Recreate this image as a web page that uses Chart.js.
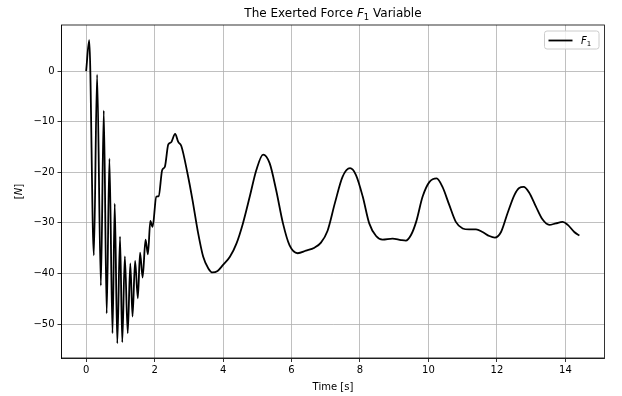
<!DOCTYPE html>
<html>
<head>
<meta charset="utf-8">
<title>The Exerted Force F1 Variable</title>
<script src="https://cdn.jsdelivr.net/npm/chart.js@4.4.1/dist/chart.umd.min.js"></script>
<style>
    html, body { margin: 0; padding: 0; background: #fff; }
    #wrap { position: relative; width: 622px; height: 396px; }
</style>
</head>
<body>
<div id="wrap"><canvas id="forceChart" width="622" height="396"></canvas></div>
<script>
// values
const timeValues = [
    0, 0.09, 0.225, 0.32, 0.43, 0.515, 0.60, 0.68, 0.77, 0.835,
    0.91, 0.99, 1.055, 1.13, 1.215, 1.29, 1.355, 1.43, 1.51, 1.575,
    1.65, 1.735, 1.805, 1.875, 1.94, 2.05, 2.12, 2.22, 2.30, 2.40,
    2.48, 2.60, 2.69, 2.78, 2.96, 3.11, 3.26, 3.42, 3.57, 3.69,
    3.84, 4.00, 4.20, 4.39, 4.58, 4.78, 4.97, 5.17, 5.36, 5.55,
    5.75, 5.94, 6.18, 6.42, 6.67, 6.86, 7.05, 7.27, 7.49, 7.71,
    7.88, 8.08, 8.27, 8.47, 8.66, 8.95, 9.20, 9.34, 9.49, 9.64,
    9.83, 10.03, 10.24, 10.41, 10.61, 10.80, 11.00, 11.19, 11.39, 11.58,
    11.78, 11.94, 12.12, 12.31, 12.51, 12.65, 12.78, 12.94, 13.14, 13.33,
    13.53, 13.72, 13.92, 14.07, 14.26, 14.41
];
const forceValues = [
    0, 6.1, -36.4, -0.7, -42.4, -7.8, -47.9, -17.3, -51.8, -26.2,
    -53.8, -32.7, -53.6, -36.6, -51.8, -38.0, -48.5, -37.5, -44.9, -35.9,
    -40.8, -33.3, -36.2, -29.6, -30.8, -24.8, -24.7, -19.6, -18.9, -14.5,
    -14.1, -12.4, -14.0, -14.8, -20.2, -25.6, -31.6, -36.7, -39.0, -39.8,
    -39.5, -38.3, -36.7, -34.1, -30.1, -24.8, -19.6, -16.5, -18.2, -23.5,
    -30.1, -34.4, -36.0, -35.5, -34.9, -33.9, -31.6, -26.0, -20.9, -19.2,
    -20.5, -24.8, -30.1, -32.6, -33.3, -33.1, -33.4, -33.5, -32.4, -29.8,
    -24.8, -21.9, -21.2, -22.9, -26.5, -29.8, -31.1, -31.3, -31.3, -31.8,
    -32.6, -32.9, -31.8, -28.1, -24.5, -23.1, -22.9, -24.0, -26.8, -29.3,
    -30.4, -30.1, -29.8, -30.4, -31.8, -32.5
];
const xTicks = [0, 2, 4, 6, 8, 10, 12, 14];
const yTicks = [-50, -40, -30, -20, -10, 0];

const FONT = "'DejaVu Sans', sans-serif";

// draw a run of text pieces (normal / italic / subscript) centred on cx
function drawParts(ctx, parts, cx, y) {
    let total = 0;
    parts.forEach(p => {
        ctx.font = p.font;
        p.w = ctx.measureText(p.text).width;
        total += p.w;
    });
    let x = cx - total / 2;
    parts.forEach(p => {
        ctx.font = p.font;
        ctx.fillText(p.text, x, y + (p.dy || 0));
        x += p.w;
    });
}

const textPlugin = {
    id: 'textPlugin',
    afterDraw(chart) {
        const ctx = chart.ctx;
        const area = chart.chartArea;
        const cx = (area.left + area.right) / 2;
        ctx.save();

        // frame on all four sides
        ctx.strokeStyle = '#000';
        ctx.lineWidth = 0.8;
        ctx.strokeRect(area.left, area.top, area.right - area.left, area.bottom - area.top);

        ctx.fillStyle = '#000';
        ctx.textBaseline = 'alphabetic';
        ctx.textAlign = 'left';

        // title
        drawParts(ctx, [
            { text: 'The Exerted Force ', font: '12px ' + FONT },
            { text: 'F', font: 'italic 12px ' + FONT },
            { text: '1', font: '8.5px ' + FONT, dy: 2.5 },
            { text: ' Variable', font: '12px ' + FONT }
        ], cx, 17);

        // x axis label
        drawParts(ctx, [{ text: 'Time [s]', font: '10px ' + FONT }], cx, 390);

        // y axis label
        ctx.save();
        ctx.translate(22, (area.top + area.bottom) / 2);
        ctx.rotate(-Math.PI / 2);
        drawParts(ctx, [
            { text: '[', font: '10px ' + FONT },
            { text: 'N', font: 'italic 10px ' + FONT },
            { text: ']', font: '10px ' + FONT }
        ], 0, 0);
        ctx.restore();

        // legend box
        const bx = 544.5, by = 31, bw = 54.5, bh = 18, r = 2.5;
        ctx.beginPath();
        ctx.moveTo(bx + r, by);
        ctx.arcTo(bx + bw, by, bx + bw, by + bh, r);
        ctx.arcTo(bx + bw, by + bh, bx, by + bh, r);
        ctx.arcTo(bx, by + bh, bx, by, r);
        ctx.arcTo(bx, by, bx + bw, by, r);
        ctx.closePath();
        ctx.fillStyle = 'rgba(255,255,255,0.8)';
        ctx.fill();
        ctx.strokeStyle = '#cccccc';
        ctx.lineWidth = 1;
        ctx.stroke();

        ctx.beginPath();
        ctx.moveTo(548.5, 40.5);
        ctx.lineTo(572.5, 40.5);
        ctx.strokeStyle = '#000';
        ctx.lineWidth = 1.8;
        ctx.stroke();

        ctx.fillStyle = '#000';
        ctx.font = 'italic 10px ' + FONT;
        ctx.fillText('F', 581, 44);
        const fw = ctx.measureText('F').width;
        ctx.font = '7px ' + FONT;
        ctx.fillText('1', 581 + fw, 46);

        ctx.restore();
    }
};

function minusSign(v) {
    return String(v).replace('-', '\u2212');
}

function renderForceChart() {
    const points = timeValues.map((t, i) => ({ x: t, y: forceValues[i] }));
    const ctx = document.getElementById('forceChart').getContext('2d');
    new Chart(ctx, {
        type: 'line',
        data: {
            datasets: [{
                label: 'F1',
                data: points,
                borderColor: '#000',
                borderWidth: 1.8,
                pointRadius: 0,
                fill: false,
                cubicInterpolationMode: 'monotone'
            }]
        },
        options: {
            responsive: false,
            animation: false,
            devicePixelRatio: 1,
            layout: {
                padding: { top: 25, right: 17.6, left: 0, bottom: 0 }
            },
            plugins: {
                legend: { display: false },
                title: { display: false },
                tooltip: { enabled: false }
            },
            scales: {
                x: {
                    type: 'linear',
                    min: -0.72,
                    max: 15.14,
                    afterBuildTicks: scale => { scale.ticks = xTicks.map(v => ({ value: v })); },
                    afterFit: scale => { scale.height = 38; },
                    ticks: {
                        color: '#000',
                        padding: 2,
                        maxRotation: 0,
                        font: { family: FONT, size: 10 },
                        callback: v => minusSign(v)
                    },
                    grid: {
                        color: '#b0b0b0',
                        lineWidth: 0.8,
                        tickColor: '#000',
                        tickLength: 4
                    },
                    border: { display: true, color: '#000', width: 0.8 }
                },
                y: {
                    type: 'linear',
                    min: -56.7,
                    max: 9.1,
                    afterBuildTicks: scale => { scale.ticks = yTicks.map(v => ({ value: v })); },
                    afterFit: scale => { scale.width = 61.5; },
                    ticks: {
                        color: '#000',
                        padding: 3,
                        font: { family: FONT, size: 10 },
                        callback: v => minusSign(v)
                    },
                    grid: {
                        color: '#b0b0b0',
                        lineWidth: 0.8,
                        tickColor: '#000',
                        tickLength: 4
                    },
                    border: { display: true, color: '#000', width: 0.8 }
                }
            }
        },
        plugins: [textPlugin]
    });
}

renderForceChart();
</script>
</body>
</html>
